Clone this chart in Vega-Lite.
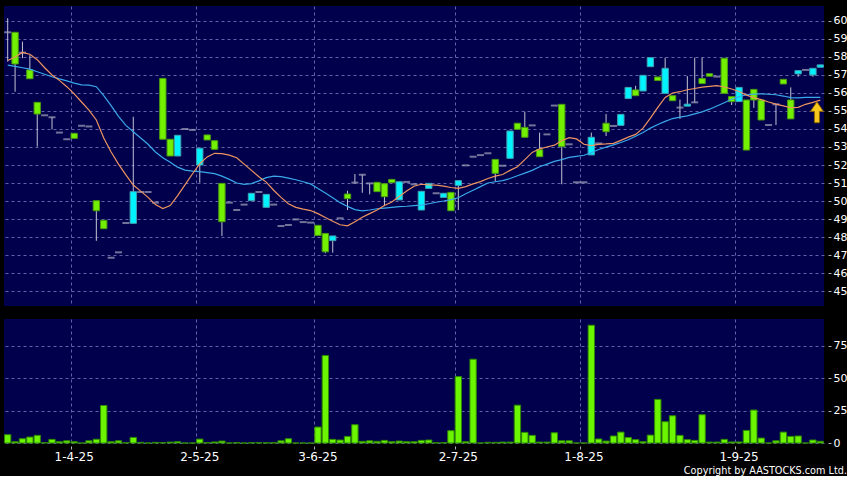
{
"$schema":"https://vega.github.io/schema/vega-lite/v6.json",
"background":"#000000",
"padding":{"left":4,"top":6,"right":0,"bottom":0},
"spacing":13,
"title":{"text":"Copyright by AASTOCKS.com Ltd.","orient":"bottom","anchor":"end","font":"DejaVu Sans","fontSize":9.7,"fontWeight":"normal","color":"#ffffff","offset":4},
"config":{
 "view":{"fill":"#00004c","stroke":null},
 "axis":{"labelColor":"#ffffff","labelFont":"DejaVu Sans","labelFontSize":12,"gridColor":"#6262a8","gridDash":[3,3],"gridWidth":1,"domain":false,"tickColor":"#b0b0c0","title":null}
},
"datasets":{
"px":[
{"i":0,"o":59.37,"h":60.15,"l":57.74,"c":59.37,"v":6.4,"m1":57.8,"m2":57.55},
{"i":1,"o":59.37,"h":59.37,"l":56.07,"c":57.61,"v":1.0,"m1":58.0,"m2":57.48},
{"i":2,"o":58.24,"h":58.85,"l":57.93,"c":58.24,"v":3.3,"m1":58.25,"m2":57.4},
{"i":3,"o":57.28,"h":58.1,"l":56.79,"c":56.79,"v":4.6,"m1":58.15,"m2":57.32},
{"i":4,"o":55.48,"h":55.48,"l":53.02,"c":54.83,"v":5.9,"m1":57.85,"m2":57.18},
{"i":5,"o":54.76,"h":54.76,"l":54.76,"c":54.76,"v":0.3,"m1":57.4,"m2":57.04},
{"i":6,"o":54.65,"h":54.65,"l":53.98,"c":54.65,"v":2.8,"m1":57.0,"m2":56.9},
{"i":7,"o":53.8,"h":53.8,"l":53.8,"c":53.8,"v":1.0,"m1":56.7,"m2":56.78},
{"i":8,"o":53.43,"h":53.43,"l":53.43,"c":53.43,"v":1.7,"m1":56.35,"m2":56.67},
{"i":9,"o":53.76,"h":53.76,"l":53.48,"c":53.48,"v":1.0,"m1":55.95,"m2":56.55},
{"i":10,"o":54.18,"h":54.18,"l":54.18,"c":54.18,"v":0,"m1":55.5,"m2":56.45},
{"i":11,"o":54.14,"h":54.14,"l":54.14,"c":54.14,"v":1.7,"m1":55.05,"m2":56.44},
{"i":12,"o":50.02,"h":50.02,"l":47.79,"c":49.46,"v":2.9,"m1":54.5,"m2":56.35},
{"i":13,"o":48.93,"h":48.93,"l":48.46,"c":48.46,"v":28.9,"m1":53.5,"m2":55.85},
{"i":14,"o":46.85,"h":46.85,"l":46.85,"c":46.85,"v":1.0,"m1":52.72,"m2":55.3},
{"i":15,"o":47.15,"h":47.15,"l":47.15,"c":47.15,"v":1.7,"m1":52.05,"m2":54.7},
{"i":16,"o":48.78,"h":48.78,"l":48.78,"c":48.78,"v":0.2,"m1":51.45,"m2":54.2},
{"i":17,"o":48.76,"h":54.68,"l":48.76,"c":50.52,"v":4.3,"m1":50.89,"m2":53.85},
{"i":18,"o":50.5,"h":50.5,"l":50.5,"c":50.5,"v":0.5,"m1":50.55,"m2":53.5},
{"i":19,"o":50.5,"h":50.5,"l":50.5,"c":50.5,"v":0,"m1":50.2,"m2":53.15},
{"i":20,"o":49.91,"h":49.91,"l":49.91,"c":49.91,"v":0.5,"m1":49.8,"m2":52.72},
{"i":21,"o":56.81,"h":56.81,"l":53.43,"c":53.43,"v":0.3,"m1":49.58,"m2":52.4},
{"i":22,"o":53.43,"h":53.43,"l":52.5,"c":52.5,"v":0.7,"m1":49.75,"m2":52.15},
{"i":23,"o":52.5,"h":53.65,"l":52.5,"c":53.65,"v":1.0,"m1":50.3,"m2":51.88},
{"i":24,"o":54.0,"h":54.0,"l":54.0,"c":54.0,"v":0,"m1":50.9,"m2":51.72},
{"i":25,"o":53.95,"h":53.95,"l":53.95,"c":53.95,"v":0,"m1":51.5,"m2":51.66},
{"i":26,"o":52.0,"h":52.93,"l":51.02,"c":52.93,"v":3.0,"m1":52.07,"m2":51.63},
{"i":27,"o":53.67,"h":53.67,"l":53.39,"c":53.39,"v":0.3,"m1":52.45,"m2":51.58},
{"i":28,"o":53.35,"h":53.35,"l":52.87,"c":52.87,"v":0.8,"m1":52.65,"m2":51.52},
{"i":29,"o":50.98,"h":50.98,"l":48.06,"c":48.85,"v":1.5,"m1":52.63,"m2":51.38},
{"i":30,"o":49.91,"h":49.91,"l":49.91,"c":49.91,"v":0,"m1":52.55,"m2":51.2},
{"i":31,"o":49.5,"h":49.5,"l":49.5,"c":49.5,"v":0.4,"m1":52.4,"m2":51.0},
{"i":32,"o":49.8,"h":49.8,"l":49.8,"c":49.8,"v":0,"m1":52.05,"m2":50.93},
{"i":33,"o":50.02,"h":50.43,"l":50.02,"c":50.43,"v":0.2,"m1":51.7,"m2":50.97},
{"i":34,"o":50.5,"h":50.5,"l":50.5,"c":50.5,"v":0.2,"m1":51.35,"m2":51.12},
{"i":35,"o":49.65,"h":50.37,"l":49.65,"c":50.37,"v":0.2,"m1":51.05,"m2":51.3},
{"i":36,"o":49.8,"h":49.8,"l":49.8,"c":49.8,"v":0.2,"m1":50.6,"m2":51.38},
{"i":37,"o":48.61,"h":48.61,"l":48.61,"c":48.61,"v":1.7,"m1":50.2,"m2":51.35},
{"i":38,"o":48.67,"h":48.67,"l":48.67,"c":48.67,"v":3.3,"m1":49.85,"m2":51.27},
{"i":39,"o":48.98,"h":48.98,"l":48.98,"c":48.98,"v":0,"m1":49.65,"m2":51.18},
{"i":40,"o":48.83,"h":48.83,"l":48.83,"c":48.83,"v":0,"m1":49.55,"m2":51.07},
{"i":41,"o":48.8,"h":48.8,"l":48.8,"c":48.8,"v":0,"m1":49.47,"m2":50.95},
{"i":42,"o":48.65,"h":48.65,"l":48.09,"c":48.09,"v":12.3,"m1":49.3,"m2":50.7},
{"i":43,"o":48.2,"h":48.2,"l":47.1,"c":47.18,"v":67.4,"m1":49.08,"m2":50.45},
{"i":44,"o":47.8,"h":48.06,"l":47.13,"c":48.06,"v":2.8,"m1":48.88,"m2":50.18},
{"i":45,"o":49.04,"h":49.04,"l":49.04,"c":49.04,"v":2.3,"m1":48.68,"m2":49.91},
{"i":46,"o":50.39,"h":50.57,"l":49.5,"c":50.13,"v":5.1,"m1":48.62,"m2":49.7},
{"i":47,"o":51.02,"h":51.5,"l":51.02,"c":51.02,"v":14.1,"m1":48.85,"m2":49.52},
{"i":48,"o":51.46,"h":51.46,"l":50.46,"c":51.46,"v":1.3,"m1":49.1,"m2":49.45},
{"i":49,"o":50.98,"h":50.98,"l":50.37,"c":50.98,"v":1.7,"m1":49.3,"m2":49.5},
{"i":50,"o":51.04,"h":51.04,"l":50.52,"c":50.52,"v":1.3,"m1":49.5,"m2":49.57},
{"i":51,"o":50.96,"h":50.96,"l":49.72,"c":50.24,"v":2.0,"m1":49.75,"m2":49.61},
{"i":52,"o":51.2,"h":51.2,"l":51.02,"c":51.02,"v":1.0,"m1":49.95,"m2":49.65},
{"i":53,"o":50.06,"h":51.07,"l":50.06,"c":51.07,"v":1.5,"m1":50.25,"m2":49.69},
{"i":54,"o":51.06,"h":51.06,"l":51.06,"c":51.06,"v":1.0,"m1":50.55,"m2":49.71},
{"i":55,"o":50.93,"h":50.93,"l":50.93,"c":50.93,"v":1.0,"m1":50.82,"m2":49.74},
{"i":56,"o":49.5,"h":50.54,"l":49.5,"c":50.54,"v":2.0,"m1":50.93,"m2":49.77},
{"i":57,"o":50.7,"h":50.98,"l":50.7,"c":50.98,"v":2.3,"m1":50.9,"m2":49.85},
{"i":58,"o":50.43,"h":50.43,"l":50.43,"c":50.43,"v":0.2,"m1":50.88,"m2":49.93},
{"i":59,"o":50.2,"h":50.43,"l":50.2,"c":50.43,"v":0.3,"m1":50.83,"m2":50.0},
{"i":60,"o":50.48,"h":50.48,"l":49.46,"c":49.46,"v":9.5,"m1":50.75,"m2":50.08},
{"i":61,"o":50.87,"h":51.13,"l":49.5,"c":51.13,"v":51.2,"m1":50.7,"m2":50.18},
{"i":62,"o":51.98,"h":51.98,"l":51.98,"c":51.98,"v":1.0,"m1":50.8,"m2":50.4},
{"i":63,"o":52.46,"h":52.46,"l":52.46,"c":52.46,"v":64.6,"m1":50.95,"m2":50.6},
{"i":64,"o":52.55,"h":52.55,"l":52.55,"c":52.55,"v":0,"m1":51.08,"m2":50.8},
{"i":65,"o":52.65,"h":52.65,"l":52.65,"c":52.65,"v":0.5,"m1":51.25,"m2":51.0},
{"i":66,"o":52.31,"h":52.31,"l":51.07,"c":51.54,"v":0.5,"m1":51.38,"m2":51.07},
{"i":67,"o":51.96,"h":51.96,"l":51.96,"c":51.96,"v":0.7,"m1":51.47,"m2":51.13},
{"i":68,"o":52.37,"h":53.89,"l":52.37,"c":53.89,"v":0.7,"m1":51.7,"m2":51.25},
{"i":69,"o":54.32,"h":54.32,"l":53.98,"c":53.98,"v":29.2,"m1":51.9,"m2":51.4},
{"i":70,"o":54.09,"h":54.96,"l":53.54,"c":53.54,"v":8.2,"m1":52.3,"m2":51.55},
{"i":71,"o":54.2,"h":54.2,"l":54.2,"c":54.2,"v":5.9,"m1":52.7,"m2":51.7},
{"i":72,"o":52.85,"h":53.8,"l":52.46,"c":52.46,"v":0.7,"m1":52.9,"m2":51.9},
{"i":73,"o":53.7,"h":53.7,"l":53.7,"c":53.7,"v":0.7,"m1":53.0,"m2":52.05},
{"i":74,"o":55.3,"h":55.3,"l":55.3,"c":55.3,"v":7.9,"m1":53.1,"m2":52.2},
{"i":75,"o":55.37,"h":55.37,"l":50.93,"c":53.02,"v":1.7,"m1":53.35,"m2":52.3},
{"i":76,"o":53.15,"h":53.15,"l":53.15,"c":53.15,"v":1.7,"m1":53.52,"m2":52.42},
{"i":77,"o":51.04,"h":51.04,"l":51.04,"c":51.04,"v":0,"m1":53.45,"m2":52.48},
{"i":78,"o":51.04,"h":51.04,"l":51.04,"c":51.04,"v":0,"m1":53.15,"m2":52.54},
{"i":79,"o":52.56,"h":53.8,"l":52.56,"c":53.54,"v":90.8,"m1":53.08,"m2":52.68},
{"i":80,"o":53.2,"h":53.2,"l":53.2,"c":53.2,"v":3.1,"m1":53.15,"m2":52.86},
{"i":81,"o":54.32,"h":54.83,"l":53.61,"c":53.85,"v":1.5,"m1":53.17,"m2":52.99},
{"i":82,"o":54.17,"h":54.17,"l":54.17,"c":54.17,"v":5.4,"m1":53.2,"m2":53.12},
{"i":83,"o":54.2,"h":54.81,"l":54.2,"c":54.81,"v":8.4,"m1":53.37,"m2":53.25},
{"i":84,"o":55.69,"h":56.31,"l":55.69,"c":56.31,"v":4.3,"m1":53.55,"m2":53.4},
{"i":85,"o":56.17,"h":56.4,"l":55.85,"c":55.85,"v":2.6,"m1":53.7,"m2":53.6},
{"i":86,"o":56.11,"h":56.98,"l":56.11,"c":56.98,"v":1.0,"m1":54.05,"m2":53.8},
{"i":87,"o":57.46,"h":57.96,"l":57.46,"c":57.96,"v":6.1,"m1":54.6,"m2":54.05},
{"i":88,"o":56.89,"h":56.89,"l":56.69,"c":56.69,"v":33.6,"m1":55.2,"m2":54.25},
{"i":89,"o":55.98,"h":57.96,"l":55.98,"c":57.37,"v":16.4,"m1":55.75,"m2":54.42},
{"i":90,"o":55.85,"h":55.85,"l":55.57,"c":55.57,"v":21.0,"m1":56.0,"m2":54.58},
{"i":91,"o":55.19,"h":55.63,"l":54.56,"c":55.19,"v":5.9,"m1":56.07,"m2":54.66},
{"i":92,"o":55.27,"h":56.94,"l":55.27,"c":55.38,"v":2.6,"m1":56.18,"m2":54.73},
{"i":93,"o":55.48,"h":57.96,"l":55.48,"c":55.48,"v":2.0,"m1":56.25,"m2":54.84},
{"i":94,"o":56.8,"h":57.96,"l":56.52,"c":56.52,"v":21.8,"m1":56.32,"m2":54.95},
{"i":95,"o":57.07,"h":57.07,"l":56.93,"c":56.93,"v":0.7,"m1":56.37,"m2":55.1},
{"i":96,"o":56.91,"h":56.91,"l":56.91,"c":56.91,"v":0.7,"m1":56.41,"m2":55.28},
{"i":97,"o":57.93,"h":57.93,"l":55.98,"c":55.98,"v":2.8,"m1":56.33,"m2":55.46},
{"i":98,"o":55.8,"h":55.8,"l":55.33,"c":55.52,"v":0.8,"m1":56.22,"m2":55.65},
{"i":99,"o":55.52,"h":56.31,"l":55.52,"c":56.31,"v":0.8,"m1":56.08,"m2":55.79},
{"i":100,"o":55.61,"h":55.61,"l":52.83,"c":52.83,"v":9.7,"m1":55.88,"m2":55.9},
{"i":101,"o":56.2,"h":56.2,"l":55.17,"c":55.61,"v":25.4,"m1":55.74,"m2":55.94},
{"i":102,"o":55.61,"h":55.61,"l":54.5,"c":54.5,"v":3.8,"m1":55.63,"m2":55.95},
{"i":103,"o":54.22,"h":54.22,"l":54.22,"c":54.22,"v":0,"m1":55.5,"m2":55.93},
{"i":104,"o":55.37,"h":55.37,"l":54.22,"c":55.37,"v":1.7,"m1":55.38,"m2":55.9},
{"i":105,"o":56.76,"h":56.76,"l":56.5,"c":56.5,"v":8.4,"m1":55.28,"m2":55.83},
{"i":106,"o":55.61,"h":56.31,"l":54.56,"c":54.56,"v":5.1,"m1":55.18,"m2":55.74},
{"i":107,"o":57.06,"h":57.24,"l":56.9,"c":57.24,"v":5.4,"m1":55.2,"m2":55.73},
{"i":108,"o":57.28,"h":57.28,"l":57.28,"c":57.28,"v":0,"m1":55.37,"m2":55.76},
{"i":109,"o":57.0,"h":57.37,"l":56.9,"c":57.37,"v":2.3,"m1":55.48,"m2":55.76},
{"i":110,"o":57.43,"h":57.56,"l":57.43,"c":57.56,"v":1.3,"m1":55.6,"m2":55.76}
],
"arrow":[{"i":109,"p":54.93}]
},
"vconcat":[
{
 "width":820,"height":300,
 "data":{"name":"px"},
 "encoding":{"x":{"field":"i","type":"ordinal","scale":{"paddingInner":0.14,"paddingOuter":0.07},
   "axis":{"values":[9,26,42,61,78,99],"bandPosition":0,"labels":false,"ticks":false,"grid":true,"title":null}}},
 "layer":[
  {"mark":{"type":"rule","color":"#c4c4d4","strokeWidth":1},
   "encoding":{"y":{"field":"l","type":"quantitative","scale":{"domain":[44.17,60.83],"nice":false,"zero":false},
     "axis":{"orient":"right","values":[45,46,47,48,49,50,51,52,53,54,55,56,57,58,59,60],"tickCount":30,"format":".0f","offset":4,"tickSize":3,"labelPadding":2,"labelFontSize":11,"grid":true,"title":null,"labelOverlap":false}},
    "y2":{"field":"h"}}},
  {"transform":[{"filter":"datum.o != datum.c"}],
   "mark":{"type":"bar","strokeWidth":1},
   "encoding":{"y":{"field":"o","type":"quantitative","scale":{"domain":[44.17,60.83],"nice":false,"zero":false},"title":null},
    "y2":{"field":"c"},
    "fill":{"condition":{"test":"datum.c > datum.o","value":"#00f2ff"},"value":"#72f000"},
    "stroke":{"condition":{"test":"datum.c > datum.o","value":"#40a0b0"},"value":"#4a9a10"}}},
  {"transform":[{"filter":"datum.o == datum.c"}],
   "mark":{"type":"tick","thickness":2,"size":7,"color":"#a4a4bc"},
   "encoding":{"y":{"field":"o","type":"quantitative","scale":{"domain":[44.17,60.83],"nice":false,"zero":false},"title":null}}},
  {"mark":{"type":"line","color":"#3aa8ea","strokeWidth":1.2},
   "encoding":{"y":{"field":"m2","type":"quantitative","scale":{"domain":[44.17,60.83],"nice":false,"zero":false},"title":null}}},
  {"mark":{"type":"line","color":"#ee9460","strokeWidth":1.2},
   "encoding":{"y":{"field":"m1","type":"quantitative","scale":{"domain":[44.17,60.83],"nice":false,"zero":false},"title":null}}},
  {"data":{"name":"arrow"},
   "mark":{"type":"point","shape":"M0,-1L0.62,-0.08L0.24,-0.08L0.24,1L-0.24,1L-0.24,-0.08L-0.62,-0.08Z","size":441,"filled":true,"fill":"#f8c81c","stroke":"#8a6400","strokeWidth":1,"opacity":1,"xOffset":4},
   "encoding":{"y":{"field":"p","type":"quantitative","scale":{"domain":[44.17,60.83],"nice":false,"zero":false},"title":null}}}
 ]
},
{
 "width":820,"height":124,
 "data":{"name":"px"},
 "mark":{"type":"bar","fill":"#6cf500","stroke":"#2e8a00","strokeWidth":1},
 "encoding":{
  "x":{"field":"i","type":"ordinal","scale":{"paddingInner":0.14,"paddingOuter":0.07},
   "axis":{"values":[9,26,42,61,78,99],"bandPosition":0,"grid":true,"ticks":true,"tickSize":3,"offset":3,"labelPadding":2,"labelAngle":0,"title":null,
    "labelExpr":"['1-4-25','2-5-25','3-6-25','2-7-25','1-8-25','1-9-25'][indexof([9,26,42,61,78,99], datum.value)]"}},
  "y":{"field":"v","type":"quantitative","scale":{"domain":[0,95.6],"nice":false},
   "axis":{"orient":"right","values":[0,25,50,75],"tickCount":10,"format":".0f","offset":4,"tickSize":3,"labelPadding":2,"labelFontSize":11,"grid":true,"title":null}}
 }
}
]
}
